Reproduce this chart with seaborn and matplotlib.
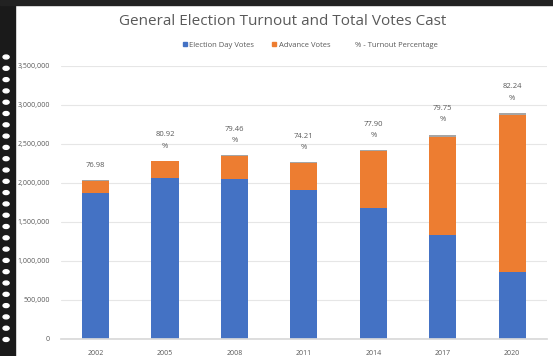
import matplotlib
matplotlib.use("Agg")
import matplotlib.pyplot as plt
import seaborn as sns
import pandas as pd
from matplotlib.lines import Line2D
from matplotlib.patches import Rectangle, Circle

years = ["2002", "2005", "2008", "2011", "2014", "2017", "2020"]
election_day = [1870000, 2060000, 2050000, 1910000, 1680000, 1335000, 860000]
advance = [155000, 215000, 295000, 345000, 725000, 1255000, 2010000]
cap = [8000, 8000, 8000, 8000, 12000, 30000, 30000]
turnout_labels = ["76.98", "80.92\n%", "79.46\n%", "74.21\n%", "77.90\n%", "79.75\n%", "82.24\n%"]
yticks = [0, 500000, 1000000, 1500000, 2000000, 2500000, 3000000, 3500000]

BLUE = "#4472C4"
ORANGE = "#ED7D31"
GRAY = "#A5A5A5"
TXT = "#595959"

sns.set_theme(style="white")
plt.rcParams["font.family"] = ["Open Sans", "DejaVu Sans"]

df = pd.DataFrame({"year": years, "eday": election_day, "adv": advance, "cap": cap})
df["b2"] = df["eday"] + df["adv"]
df["total"] = df["b2"] + df["cap"]

fig = plt.figure(figsize=(5.53, 3.56), dpi=100)
ax = fig.add_axes([0.11, 0.048, 0.879, 0.767])

w = 0.39
sns.barplot(data=df, x="year", y="eday", color=BLUE, width=w, ax=ax, saturation=1, linewidth=0)
sns.barplot(data=df, x="year", y="adv", bottom=df["eday"], color=ORANGE, width=w, ax=ax, saturation=1, linewidth=0)
sns.barplot(data=df, x="year", y="cap", bottom=df["b2"], color=GRAY, width=w, ax=ax, saturation=1, linewidth=0)

for i, (t, lab) in enumerate(zip(df["total"], turnout_labels)):
    ax.annotate(lab, (i, t), xytext=(0, 8), textcoords="offset points",
                ha="center", va="bottom", fontsize=5.5, color=TXT, linespacing=1.9)

ax.set_ylim(0, 3500000)
ax.set_yticks(yticks)
ax.set_yticklabels([f"{v:,}" for v in yticks])
ax.set_xlabel("")
ax.set_ylabel("")
ax.tick_params(axis="both", labelsize=5, colors=TXT, length=0, pad=8)
ax.yaxis.grid(True, color="#E6E6E6", linewidth=0.8)
ax.set_axisbelow(True)
for s in ["top", "right", "left"]:
    ax.spines[s].set_visible(False)
ax.spines["bottom"].set_color("#D9D9D9")
ax.set_xlim(-0.5, 6.5)

fig.text(0.512, 0.94, "General Election Turnout and Total Votes Cast", ha="center", va="center",
         fontsize=11, color=TXT)

handles = [
    Line2D([], [], marker="s", color="none", markerfacecolor=BLUE, markeredgecolor=BLUE, markersize=3.5),
    Line2D([], [], marker="s", color="none", markerfacecolor=ORANGE, markeredgecolor=ORANGE, markersize=3.5),
    Line2D([], [], marker="s", color="none", markerfacecolor="none", markeredgecolor="none", markersize=3.5),
]
fig.legend(handles, ["Election Day Votes", "Advance Votes", "% - Turnout Percentage"],
           loc="center", bbox_to_anchor=(0.56, 0.873), ncol=3, frameon=False,
           fontsize=5.5, labelcolor=TXT, handletextpad=0.2, columnspacing=2.2, handlelength=0.8)

# decorative dark strip on the left edge
fig.patches.append(Rectangle((0, 0), 0.027, 1, transform=fig.transFigure, color="#1a1a1a", zorder=0))
fig.patches.append(Rectangle((0, 0.985), 1, 0.015, transform=fig.transFigure, color="#222222", zorder=0))
for k in range(26):
    yy = 1 - (57 + k * 11.3) / 356
    fig.patches.append(Circle((0.011, yy), 0.0055, transform=fig.transFigure, color="white", zorder=1))

fig.savefig("out.png", dpi=100, facecolor="white")
